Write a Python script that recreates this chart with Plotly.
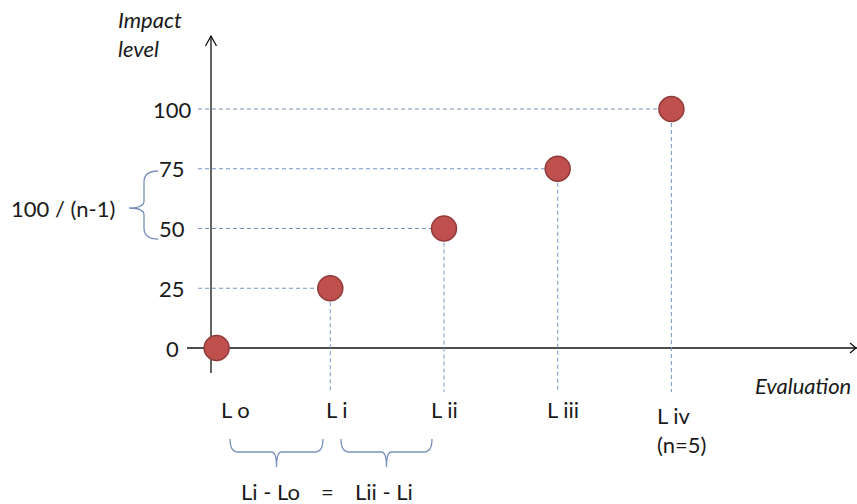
import plotly.graph_objects as go

# ---------------- data ----------------
levels = ["L o", "L i", "L ii", "L iii", "L iv<br>(n=5)"]
positions = [0, 1, 2, 3, 4]
impact = [0, 25, 50, 75, 100]
y_ticks = [0, 25, 50, 75, 100]
y_tick_labels = ["0", "25", "50", "75", "100"]

# ---------------- layout helpers (pixel geometry) ----------------
W, H = 857, 504
X0, XS = 216.6, 113.7   # pixel of position 0 / pixels per position unit
Y0, YS = 348.0, 2.39    # pixel of impact 0 / pixels per impact unit

def px(x):
    return x / W

def py(y):
    return 1 - y / H

def path(pts):
    """pts: list of ('M'|'L'|'Q', coords...) in pixels -> paper path string"""
    out = []
    for cmd, *c in pts:
        conv = []
        for i in range(0, len(c), 2):
            conv.append(f"{px(c[i]):.5f},{py(c[i+1]):.5f}")
        out.append(cmd + " " + " ".join(conv))
    return " ".join(out)

FONT = "Lato, 'Open Sans', sans-serif"
TXT = "#1a1a1a"
GUIDE = "#7494c2"
BRACE = "#7891b8"

fig = go.Figure()

# dashed guide lines from each level to the axes
guide_left = (198 - X0) / XS
guide_bottom = -(392 - Y0) / YS
gx, gy = [], []
for p, v in zip(positions, impact):
    if v == 0:
        continue
    gx += [guide_left, p, None, p, p, None]
    gy += [v, v, None, v, guide_bottom, None]
fig.add_trace(go.Scatter(
    x=gx, y=gy, mode="lines",
    line=dict(color=GUIDE, width=1, dash="4px,3px"),
    hoverinfo="skip", showlegend=False))

# points
fig.add_trace(go.Scatter(
    x=positions, y=impact, mode="markers",
    marker=dict(size=25, color="#C0504D", line=dict(color="#8E3B39", width=1.5)),
    showlegend=False))

shapes = []
# axes (drawn below the markers)
ax = dict(type="line", xref="paper", yref="paper", layer="below",
          line=dict(color="#111111", width=1.3))
shapes.append(dict(ax, x0=px(211), x1=px(211), y0=py(373), y1=py(36)))
shapes.append(dict(ax, x0=px(187), x1=px(857), y0=py(348), y1=py(348)))
# arrow heads
shapes.append(dict(type="path", xref="paper", yref="paper",
                   path=path([("M", 205.5, 46), ("L", 211, 36), ("L", 216.5, 46)]),
                   line=dict(color="#111111", width=1.3)))
shapes.append(dict(type="path", xref="paper", yref="paper",
                   path=path([("M", 850, 343), ("L", 856, 348), ("L", 850, 353)]),
                   line=dict(color="#111111", width=1.3)))

# left brace (vertical)
shapes.append(dict(type="path", xref="paper", yref="paper",
                   path=path([("M", 158, 171), ("Q", 144, 171, 144, 182),
                              ("L", 144, 201), ("Q", 144, 208, 129, 208),
                              ("Q", 144, 208, 144, 215), ("L", 144, 228),
                              ("Q", 144, 239, 158, 239)]),
                   line=dict(color=BRACE, width=1.3)))

# bottom braces (horizontal)
def hbrace(xl, xr, top=439, mid=452, tip=467):
    xc = (xl + xr) / 2
    return path([("M", xl, top), ("Q", xl, mid, xl + 8, mid),
                 ("L", xc - 5, mid), ("Q", xc, mid, xc, tip),
                 ("Q", xc, mid, xc + 5, mid), ("L", xr - 8, mid),
                 ("Q", xr, mid, xr, top)])

shapes.append(dict(type="path", xref="paper", yref="paper",
                   path=hbrace(230, 323), line=dict(color=BRACE, width=1.3)))
shapes.append(dict(type="path", xref="paper", yref="paper",
                   path=hbrace(341, 432), line=dict(color=BRACE, width=1.3)))

ann = []
font = dict(family=FONT, size=22, color=TXT)

# y tick labels
for v, t in zip(y_ticks, y_tick_labels):
    ann.append(dict(x=px(172), xref="paper", y=v, yref="y", text=t,
                    showarrow=False, xanchor="center", yanchor="middle", font=font))

# x category labels
label_shift = [19, 7, 0, 5, 0]
for p, t, s in zip(positions, levels, label_shift):
    if "<br>" in t:
        ann.append(dict(x=p, xref="x", y=py(400), yref="paper", text=t,
                        showarrow=False, xanchor="left", yanchor="top", align="left",
                        xshift=655 - (X0 + XS * p), font=font))
    else:
        ann.append(dict(x=p, xref="x", y=py(409), yref="paper", text=t,
                        showarrow=False, xanchor="center", yanchor="middle",
                        xshift=s, font=font))

# axis titles
ann.append(dict(x=px(116), y=py(4), xref="paper", yref="paper",
                text="<i>Impact</i><br><i>level</i>", showarrow=False,
                xanchor="left", yanchor="top", align="left", font=font))
ann.append(dict(x=px(803), y=py(385), xref="paper", yref="paper",
                text="<i>Evaluation</i>", showarrow=False,
                xanchor="center", yanchor="middle", font=font))

# brace notes
ann.append(dict(x=px(63), y=py(208), xref="paper", yref="paper",
                text="100 / (n-1)", showarrow=False,
                xanchor="center", yanchor="middle", font=font))
ann.append(dict(x=px(270), y=py(491), xref="paper", yref="paper",
                text="Li - Lo", showarrow=False,
                xanchor="center", yanchor="middle", font=font))
ann.append(dict(x=px(327), y=py(491), xref="paper", yref="paper",
                text="=", showarrow=False,
                xanchor="center", yanchor="middle", font=font))
ann.append(dict(x=px(384), y=py(491), xref="paper", yref="paper",
                text="Lii - Li", showarrow=False,
                xanchor="center", yanchor="middle", font=font))

fig.update_layout(
    width=W, height=H,
    margin=dict(l=0, r=0, t=0, b=0),
    paper_bgcolor="white", plot_bgcolor="white",
    xaxis=dict(range=[(0 - X0) / XS, (W - X0) / XS], visible=False, fixedrange=True),
    yaxis=dict(range=[(Y0 - H) / YS, Y0 / YS], visible=False, fixedrange=True),
    shapes=shapes, annotations=ann,
    showlegend=False,
)

fig.write_html(
    "out.html",
    config={"displayModeBar": False},
    post_script="document.body.style.margin='0';document.body.style.overflow='hidden';",
)
